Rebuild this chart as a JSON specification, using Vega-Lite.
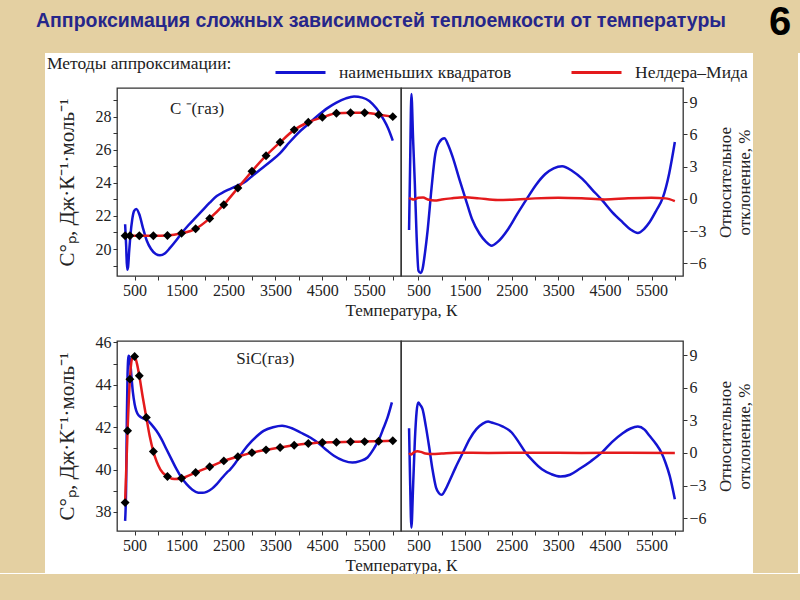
{
  "$schema": "https://vega.github.io/schema/vega-lite/v6.json",
  "background": "white",
  "padding": 0,
  "spacing": 0,
  "datasets": {
    "top_ls": [
      {"T":298,"Cp":21.5},{"T":320,"Cp":20.2},{"T":340,"Cp":18.75},{"T":360,"Cp":18.9},{"T":385,"Cp":19.9},{"T":410,"Cp":20.8},{"T":450,"Cp":21.8},{"T":490,"Cp":22.3},{"T":536,"Cp":22.42},{"T":600,"Cp":22.1},{"T":680,"Cp":21.25},{"T":760,"Cp":20.5},{"T":850,"Cp":20.0},{"T":950,"Cp":19.7},{"T":1040,"Cp":19.62},{"T":1150,"Cp":19.75},{"T":1250,"Cp":20.05},{"T":1380,"Cp":20.5},{"T":1500,"Cp":20.95},{"T":1650,"Cp":21.45},{"T":1800,"Cp":21.9},{"T":1950,"Cp":22.35},{"T":2100,"Cp":22.8},{"T":2250,"Cp":23.2},{"T":2400,"Cp":23.45},{"T":2550,"Cp":23.65},{"T":2700,"Cp":23.85},{"T":2850,"Cp":24.05},{"T":3000,"Cp":24.4},{"T":3200,"Cp":24.85},{"T":3400,"Cp":25.3},{"T":3600,"Cp":25.8},{"T":3800,"Cp":26.45},{"T":4000,"Cp":27.05},{"T":4200,"Cp":27.55},{"T":4400,"Cp":28.05},{"T":4600,"Cp":28.5},{"T":4800,"Cp":28.85},{"T":5000,"Cp":29.1},{"T":5175,"Cp":29.21},{"T":5350,"Cp":29.15},{"T":5500,"Cp":28.95},{"T":5650,"Cp":28.5},{"T":5800,"Cp":27.85},{"T":5900,"Cp":27.3},{"T":6000,"Cp":26.55}
    ],
    "top_pts": [
      {"T":298,"Cp":20.8},{"T":400,"Cp":20.8},{"T":600,"Cp":20.8},{"T":900,"Cp":20.8},{"T":1200,"Cp":20.82},{"T":1500,"Cp":20.95},{"T":1800,"Cp":21.22},{"T":2100,"Cp":21.85},{"T":2400,"Cp":22.68},{"T":2700,"Cp":23.69},{"T":3000,"Cp":24.7},{"T":3300,"Cp":25.64},{"T":3600,"Cp":26.45},{"T":3900,"Cp":27.2},{"T":4200,"Cp":27.66},{"T":4500,"Cp":27.96},{"T":4800,"Cp":28.2},{"T":5100,"Cp":28.24},{"T":5400,"Cp":28.24},{"T":5700,"Cp":28.12},{"T":6000,"Cp":28.0}
    ],
    "top_dev_ls": [
      {"T":298,"dev":-2.9},{"T":320,"dev":3.0},{"T":348,"dev":9.77},{"T":385,"dev":5.5},{"T":422,"dev":1.39},{"T":460,"dev":-3.5},{"T":500,"dev":-6.69},{"T":545,"dev":-6.9},{"T":587,"dev":-6.53},{"T":640,"dev":-5.0},{"T":695,"dev":-2.97},{"T":780,"dev":1.0},{"T":861,"dev":4.18},{"T":950,"dev":5.3},{"T":1056,"dev":5.64},{"T":1140,"dev":5.0},{"T":1236,"dev":3.87},{"T":1380,"dev":1.8},{"T":1511,"dev":-0.01},{"T":1650,"dev":-1.9},{"T":1814,"dev":-3.27},{"T":1950,"dev":-4.0},{"T":2067,"dev":-4.36},{"T":2200,"dev":-4.0},{"T":2426,"dev":-2.8},{"T":2620,"dev":-1.4},{"T":2824,"dev":0},{"T":3020,"dev":1.3},{"T":3221,"dev":2.32},{"T":3400,"dev":2.85},{"T":3582,"dev":3.04},{"T":3800,"dev":2.6},{"T":4015,"dev":1.86},{"T":4230,"dev":0.85},{"T":4448,"dev":-0.16},{"T":4660,"dev":-1.25},{"T":4881,"dev":-2.18},{"T":5050,"dev":-2.85},{"T":5206,"dev":-3.17},{"T":5340,"dev":-2.8},{"T":5457,"dev":-2.18},{"T":5600,"dev":-1.1},{"T":5746,"dev":0.16},{"T":5880,"dev":2.4},{"T":6000,"dev":5.3}
    ],
    "top_dev_nm": [
      {"T":298,"dev":0.1},{"T":350,"dev":0.0},{"T":400,"dev":-0.05},{"T":500,"dev":0.1},{"T":600,"dev":0.12},{"T":700,"dev":-0.05},{"T":850,"dev":-0.15},{"T":1000,"dev":-0.05},{"T":1200,"dev":0.05},{"T":1500,"dev":0.15},{"T":1800,"dev":0.05},{"T":2200,"dev":-0.1},{"T":2600,"dev":-0.05},{"T":3000,"dev":0.05},{"T":3500,"dev":0.1},{"T":4000,"dev":0.05},{"T":4500,"dev":-0.05},{"T":5000,"dev":0.05},{"T":5500,"dev":0.1},{"T":5800,"dev":0.05},{"T":6000,"dev":-0.2}
    ],
    "bot_ls": [
      {"T":298,"Cp":37.58},{"T":320,"Cp":39.3},{"T":335,"Cp":42.5},{"T":350,"Cp":44.5},{"T":372,"Cp":45.37},{"T":390,"Cp":45.3},{"T":414,"Cp":44.9},{"T":440,"Cp":44.2},{"T":464,"Cp":43.64},{"T":500,"Cp":43.1},{"T":536,"Cp":42.77},{"T":590,"Cp":42.55},{"T":643,"Cp":42.46},{"T":720,"Cp":42.38},{"T":785,"Cp":42.3},{"T":870,"Cp":42.1},{"T":965,"Cp":41.83},{"T":1070,"Cp":41.45},{"T":1179,"Cp":40.96},{"T":1290,"Cp":40.47},{"T":1393,"Cp":40.02},{"T":1500,"Cp":39.62},{"T":1607,"Cp":39.31},{"T":1730,"Cp":39.05},{"T":1856,"Cp":38.91},{"T":1950,"Cp":38.9},{"T":2035,"Cp":38.95},{"T":2150,"Cp":39.1},{"T":2250,"Cp":39.31},{"T":2360,"Cp":39.6},{"T":2464,"Cp":39.86},{"T":2534,"Cp":40.0},{"T":2650,"Cp":40.32},{"T":2819,"Cp":40.88},{"T":3000,"Cp":41.35},{"T":3248,"Cp":41.83},{"T":3450,"Cp":42.0},{"T":3641,"Cp":42.07},{"T":3850,"Cp":41.95},{"T":4033,"Cp":41.75},{"T":4250,"Cp":41.5},{"T":4426,"Cp":41.23},{"T":4600,"Cp":40.9},{"T":4746,"Cp":40.65},{"T":4950,"Cp":40.42},{"T":5139,"Cp":40.33},{"T":5300,"Cp":40.4},{"T":5461,"Cp":40.57},{"T":5600,"Cp":41.0},{"T":5710,"Cp":41.44},{"T":5800,"Cp":41.95},{"T":5889,"Cp":42.46},{"T":5981,"Cp":43.17}
    ],
    "bot_nm": [
      {"T":298,"Cp":38.44},{"T":350,"Cp":41.83},{"T":400,"Cp":44.27},{"T":450,"Cp":45.25},{"T":500,"Cp":45.34},{"T":550,"Cp":45.0},{"T":600,"Cp":44.43},{"T":675,"Cp":43.4},{"T":750,"Cp":42.46},{"T":820,"Cp":41.6},{"T":900,"Cp":40.85},{"T":1050,"Cp":40.0},{"T":1200,"Cp":39.67},{"T":1350,"Cp":39.55},{"T":1500,"Cp":39.59},{"T":1800,"Cp":39.86},{"T":2100,"Cp":40.13},{"T":2400,"Cp":40.41},{"T":2700,"Cp":40.61},{"T":3000,"Cp":40.8},{"T":3300,"Cp":40.93},{"T":3600,"Cp":41.04},{"T":3900,"Cp":41.15},{"T":4200,"Cp":41.23},{"T":4500,"Cp":41.28},{"T":4800,"Cp":41.29},{"T":5100,"Cp":41.31},{"T":5400,"Cp":41.32},{"T":5700,"Cp":41.34},{"T":6000,"Cp":41.36}
    ],
    "bot_pts": [
      {"T":298,"Cp":38.44},{"T":350,"Cp":41.83},{"T":400,"Cp":44.27},{"T":500,"Cp":45.34},{"T":600,"Cp":44.43},{"T":750,"Cp":42.46},{"T":900,"Cp":40.85},{"T":1200,"Cp":39.67},{"T":1500,"Cp":39.59},{"T":1800,"Cp":39.86},{"T":2100,"Cp":40.13},{"T":2400,"Cp":40.41},{"T":2700,"Cp":40.61},{"T":3000,"Cp":40.8},{"T":3300,"Cp":40.93},{"T":3600,"Cp":41.04},{"T":3900,"Cp":41.15},{"T":4200,"Cp":41.23},{"T":4500,"Cp":41.28},{"T":4800,"Cp":41.29},{"T":5100,"Cp":41.31},{"T":5400,"Cp":41.32},{"T":5700,"Cp":41.34},{"T":6000,"Cp":41.36}
    ],
    "bot_dev_ls": [
      {"T":298,"dev":2.28},{"T":320,"dev":-2.5},{"T":348,"dev":-6.86},{"T":385,"dev":-3.0},{"T":422,"dev":1.12},{"T":460,"dev":3.8},{"T":494,"dev":4.64},{"T":540,"dev":4.4},{"T":587,"dev":4.03},{"T":660,"dev":2.4},{"T":731,"dev":0.5},{"T":800,"dev":-1.5},{"T":877,"dev":-3.18},{"T":940,"dev":-3.7},{"T":998,"dev":-3.85},{"T":1080,"dev":-3.35},{"T":1165,"dev":-2.57},{"T":1300,"dev":-1.3},{"T":1454,"dev":0.04},{"T":1600,"dev":1.3},{"T":1742,"dev":2.19},{"T":1880,"dev":2.7},{"T":1994,"dev":2.89},{"T":2067,"dev":2.8},{"T":2300,"dev":2.45},{"T":2500,"dev":1.88},{"T":2650,"dev":1.0},{"T":2788,"dev":0.1},{"T":2950,"dev":-0.7},{"T":3149,"dev":-1.5},{"T":3350,"dev":-1.95},{"T":3545,"dev":-2.17},{"T":3750,"dev":-2.0},{"T":3942,"dev":-1.5},{"T":4200,"dev":-0.75},{"T":4448,"dev":0.1},{"T":4650,"dev":1.0},{"T":4881,"dev":1.82},{"T":5050,"dev":2.25},{"T":5206,"dev":2.43},{"T":5350,"dev":2.15},{"T":5457,"dev":1.58},{"T":5600,"dev":0.8},{"T":5710,"dev":0.04},{"T":5800,"dev":-0.9},{"T":5890,"dev":-2.1},{"T":6000,"dev":-4.25}
    ],
    "bot_dev_nm": [
      {"T":298,"dev":0},{"T":340,"dev":-0.15},{"T":400,"dev":0.05},{"T":480,"dev":0.15},{"T":550,"dev":0.1},{"T":650,"dev":-0.05},{"T":800,"dev":-0.1},{"T":1000,"dev":-0.05},{"T":1300,"dev":0.02},{"T":2000,"dev":0},{"T":3000,"dev":0.03},{"T":4000,"dev":0},{"T":5000,"dev":0.02},{"T":6000,"dev":0}
    ]
  },
  "vconcat": [
    {
      "hconcat": [
        {
          "width": 750, "height": 53,
          "view": {"fill": "#e4d0a2", "stroke": null},
          "data": {"values": [{"t": "Аппроксимация сложных зависимостей теплоемкости от температуры"}]},
          "mark": {"type": "text", "font": "Liberation Sans", "fontWeight": "bold", "fontSize": 19.5, "color": "#26268a", "dx": 6, "dy": -6},
          "encoding": {"text": {"field": "t"}}
        },
        {
          "width": 50, "height": 53,
          "view": {"fill": "#e4d0a2", "stroke": null},
          "data": {"values": [{"t": "6"}]},
          "mark": {"type": "text", "font": "Liberation Sans", "fontWeight": "bold", "fontSize": 40, "color": "#000000", "dx": 5, "dy": -4},
          "encoding": {"text": {"field": "t"}}
        }
      ],
      "spacing": 0
    },
    {
      "hconcat": [
        {
          "width": 45, "height": 520,
          "view": {"fill": "#e4d0a2", "stroke": null},
          "data": {"values": [{"t": ""}]},
          "mark": {"type": "text"},
          "encoding": {"text": {"field": "t"}}
        },
        {
          "hconcat": [
            {
              "vconcat": [
                {
                  "width": 1, "height": 20,
                  "view": {"stroke": null},
                  "data": {"values": [{"t": ""}]},
                  "mark": {"type": "text"},
                  "encoding": {"text": {"field": "t"}}
                },
                {
                  "hconcat": [
                    {
                      "width": 284, "height": 188,
                      "layer": [
                        {
                          "data": {"name": "top_ls"},
                          "mark": {"type": "line", "interpolate": "monotone", "strokeWidth": 2.5},
                          "encoding": {
                            "x": {"field": "T", "type": "quantitative", "scale": {"domain": [125, 6175], "nice": false, "zero": false},
                              "axis": {"values": [500,1000,1500,2000,2500,3000,3500,4000,4500,5000,5500,6000], "tickCount": 100, "format": "d", "labelExpr": "datum.value % 1000 === 500 ? datum.label : ''", "title": "Температура, К", "titleX": 284, "titleAlign": "center", "titlePadding": 4}},
                            "y": {"field": "Cp", "type": "quantitative", "scale": {"domain": [18.37, 29.73], "nice": false, "zero": false},
                              "axis": {"values": [19,20,21,22,23,24,25,26,27,28,29], "tickCount": 100, "format": "d", "labelExpr": "datum.value % 2 === 0 ? datum.label : ''", "title": "C°ₚ, Дж·К⁻¹·моль⁻¹", "titlePadding": 18, "titleFontSize": 21}},
                            "color": {"datum": "наименьших квадратов", "type": "nominal",
                              "scale": {"domain": ["наименьших квадратов", "Нелдера–Мида"], "range": ["#1414d2", "#e41a1c"]},
                              "legend": {"orient": "none", "legendX": 47, "legendY": 46, "direction": "horizontal", "title": "Методы аппроксимации:", "titleOrient": "left", "titleLimit": 400, "titleFont": "Liberation Serif", "titleFontSize": 17.5, "titleFontWeight": "normal", "titleColor": "#222", "titlePadding": 42, "labelFont": "Liberation Serif", "labelFontSize": 17.5, "labelColor": "#222", "labelLimit": 400, "symbolType": "stroke", "symbolSize": 2500, "symbolStrokeWidth": 3, "labelOffset": 12, "columnPadding": 53}}
                          }
                        },
                        {
                          "data": {"name": "top_pts"},
                          "mark": {"type": "line", "interpolate": "monotone", "strokeWidth": 2.5},
                          "encoding": {
                            "x": {"field": "T", "type": "quantitative"},
                            "y": {"field": "Cp", "type": "quantitative"},
                            "color": {"datum": "Нелдера–Мида", "type": "nominal"}
                          }
                        },
                        {
                          "data": {"name": "top_pts"},
                          "mark": {"type": "point", "shape": "diamond", "filled": true, "color": "#000000", "size": 80, "opacity": 1},
                          "encoding": {
                            "x": {"field": "T", "type": "quantitative"},
                            "y": {"field": "Cp", "type": "quantitative"}
                          }
                        },
                        {
                          "data": {"values": [{"label": "C ⁻(газ)"}]},
                          "mark": {"type": "text", "font": "Liberation Serif", "fontSize": 17, "color": "#222"},
                          "encoding": {
                            "x": {"datum": 1830, "type": "quantitative"},
                            "y": {"datum": 28.45, "type": "quantitative"},
                            "text": {"field": "label"}
                          }
                        }
                      ]
                    },
                    {
                      "width": 282, "height": 188,
                      "layer": [
                        {
                          "data": {"name": "top_dev_ls"},
                          "mark": {"type": "line", "interpolate": "monotone", "strokeWidth": 2.5},
                          "encoding": {
                            "x": {"field": "T", "type": "quantitative", "scale": {"domain": [125, 6175], "nice": false, "zero": false},
                              "axis": {"values": [500,1000,1500,2000,2500,3000,3500,4000,4500,5000,5500,6000], "tickCount": 100, "format": "d", "labelExpr": "datum.value % 1000 === 500 ? datum.label : ''", "title": null}},
                            "y": {"field": "dev", "type": "quantitative", "scale": {"domain": [-7.18, 10.33], "nice": false, "zero": false},
                              "axis": {"orient": "right", "values": [-6,-3,0,3,6,9], "tickCount": 100, "format": "d", "title": ["Относительное", "отклонение, %"], "titleAngle": 270, "titleBaseline": "top", "titlePadding": -8}},
                            "color": {"datum": "наименьших квадратов", "type": "nominal"}
                          }
                        },
                        {
                          "data": {"name": "top_dev_nm"},
                          "mark": {"type": "line", "interpolate": "monotone", "strokeWidth": 2.5},
                          "encoding": {
                            "x": {"field": "T", "type": "quantitative"},
                            "y": {"field": "dev", "type": "quantitative"},
                            "color": {"datum": "Нелдера–Мида", "type": "nominal"}
                          }
                        }
                      ]
                    }
                  ],
                  "spacing": 0,
                  "bounds": "flush"
                },
                {
                  "hconcat": [
                    {
                      "width": 284, "height": 190,
                      "layer": [
                        {
                          "data": {"name": "bot_ls"},
                          "mark": {"type": "line", "interpolate": "monotone", "strokeWidth": 2.5},
                          "encoding": {
                            "x": {"field": "T", "type": "quantitative", "scale": {"domain": [125, 6175], "nice": false, "zero": false},
                              "axis": {"values": [500,1000,1500,2000,2500,3000,3500,4000,4500,5000,5500,6000], "tickCount": 100, "format": "d", "labelExpr": "datum.value % 1000 === 500 ? datum.label : ''", "title": "Температура, К", "titleX": 284, "titleAlign": "center", "titlePadding": 4}},
                            "y": {"field": "Cp", "type": "quantitative", "scale": {"domain": [37.1, 46.07], "nice": false, "zero": false},
                              "axis": {"values": [38,39,40,41,42,43,44,45,46], "tickCount": 100, "format": "d", "labelExpr": "datum.value % 2 === 0 ? datum.label : ''", "title": "C°ₚ, Дж·К⁻¹·моль⁻¹", "titlePadding": 18, "titleFontSize": 21}},
                            "color": {"datum": "наименьших квадратов", "type": "nominal"}
                          }
                        },
                        {
                          "data": {"name": "bot_nm"},
                          "mark": {"type": "line", "interpolate": "monotone", "strokeWidth": 2.5},
                          "encoding": {
                            "x": {"field": "T", "type": "quantitative"},
                            "y": {"field": "Cp", "type": "quantitative"},
                            "color": {"datum": "Нелдера–Мида", "type": "nominal"}
                          }
                        },
                        {
                          "data": {"name": "bot_pts"},
                          "mark": {"type": "point", "shape": "diamond", "filled": true, "color": "#000000", "size": 80, "opacity": 1},
                          "encoding": {
                            "x": {"field": "T", "type": "quantitative"},
                            "y": {"field": "Cp", "type": "quantitative"}
                          }
                        },
                        {
                          "data": {"values": [{"label": "SiC(газ)"}]},
                          "mark": {"type": "text", "font": "Liberation Serif", "fontSize": 17, "color": "#222"},
                          "encoding": {
                            "x": {"datum": 3284, "type": "quantitative"},
                            "y": {"datum": 45.23, "type": "quantitative"},
                            "text": {"field": "label"}
                          }
                        }
                      ]
                    },
                    {
                      "width": 282, "height": 190,
                      "layer": [
                        {
                          "data": {"name": "bot_dev_ls"},
                          "mark": {"type": "line", "interpolate": "monotone", "strokeWidth": 2.5},
                          "encoding": {
                            "x": {"field": "T", "type": "quantitative", "scale": {"domain": [125, 6175], "nice": false, "zero": false},
                              "axis": {"values": [500,1000,1500,2000,2500,3000,3500,4000,4500,5000,5500,6000], "tickCount": 100, "format": "d", "labelExpr": "datum.value % 1000 === 500 ? datum.label : ''", "title": null}},
                            "y": {"field": "dev", "type": "quantitative", "scale": {"domain": [-7.17, 10.29], "nice": false, "zero": false},
                              "axis": {"orient": "right", "values": [-6,-3,0,3,6,9], "tickCount": 100, "format": "d", "title": ["Относительное", "отклонение, %"], "titleAngle": 270, "titleBaseline": "top", "titlePadding": -8}},
                            "color": {"datum": "наименьших квадратов", "type": "nominal"}
                          }
                        },
                        {
                          "data": {"name": "bot_dev_nm"},
                          "mark": {"type": "line", "interpolate": "monotone", "strokeWidth": 2.5},
                          "encoding": {
                            "x": {"field": "T", "type": "quantitative"},
                            "y": {"field": "dev", "type": "quantitative"},
                            "color": {"datum": "Нелдера–Мида", "type": "nominal"}
                          }
                        }
                      ]
                    }
                  ],
                  "spacing": 0,
                  "bounds": "flush"
                }
              ],
              "spacing": 14
            },
            {
              "width": 45, "height": 520,
              "view": {"fill": "#e4d0a2", "stroke": null},
              "data": {"values": [{"t": ""}]},
              "mark": {"type": "text"},
              "encoding": {"text": {"field": "t"}}
            }
          ],
          "spacing": 0
        }
      ],
      "spacing": 10
    },
    {
      "width": 800, "height": 27,
      "view": {"fill": "#e4d0a2", "stroke": null},
      "data": {"values": [{"t": ""}]},
      "mark": {"type": "text"},
      "encoding": {"text": {"field": "t"}}
    }
  ],
  "config": {
    "font": "Liberation Serif",
    "view": {"stroke": "#333333", "strokeWidth": 1.3},
    "axis": {"grid": false, "domain": false, "tickColor": "#333333", "tickSize": 4, "tickWidth": 1, "labelFont": "Liberation Serif", "labelFontSize": 16, "labelColor": "#222222", "labelPadding": 2, "titleFont": "Liberation Serif", "titleFontSize": 17, "titleFontWeight": "normal", "titleColor": "#222222", "labelOverlap": false}
  }
}
